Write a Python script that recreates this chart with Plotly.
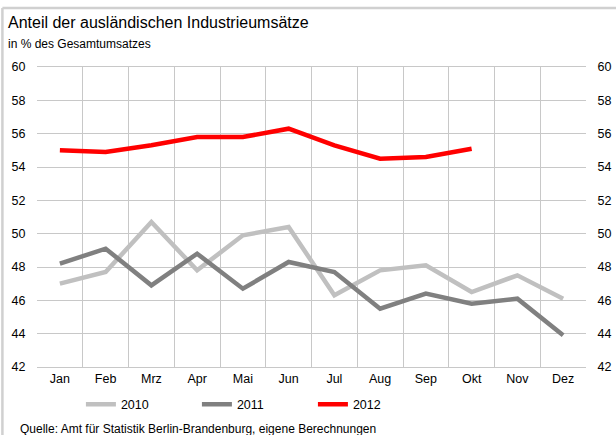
import plotly.graph_objects as go

months = ["Jan", "Feb", "Mrz", "Apr", "Mai", "Jun", "Jul", "Aug", "Sep", "Okt", "Nov", "Dez"]
v2010 = [47.0, 47.7, 50.7, 47.8, 49.9, 50.4, 46.3, 47.8, 48.1, 46.5, 47.5, 46.1]
v2011 = [48.2, 49.1, 46.9, 48.8, 46.7, 48.3, 47.7, 45.5, 46.4, 45.8, 46.1, 43.9]
v2012 = [55.0, 54.9, 55.3, 55.8, 55.8, 56.3, 55.3, 54.5, 54.6, 55.1]
yticks = [42, 44, 46, 48, 50, 52, 54, 56, 58, 60]

FONT = "Liberation Sans, Arial, sans-serif"

fig = go.Figure()
fig.add_trace(go.Scatter(x=months, y=v2010, mode="lines", name="2010",
                         line=dict(color="#c0c0c0", width=4.5)))
fig.add_trace(go.Scatter(x=months, y=v2011, mode="lines", name="2011",
                         line=dict(color="#808080", width=4.5)))
fig.add_trace(go.Scatter(x=months[:len(v2012)], y=v2012, mode="lines", name="2012",
                         line=dict(color="#ff0000", width=4.5)))
# invisible trace to carry right axis
fig.add_trace(go.Scatter(x=months, y=v2010, mode="lines", yaxis="y2", showlegend=False,
                         hoverinfo="skip", line=dict(color="rgba(0,0,0,0)", width=0)))

ax_common = dict(range=[42, 60], tickvals=yticks, ticktext=[str(t) for t in yticks],
                 tickfont=dict(family=FONT, size=12.5, color="#000000"),
                 showline=False, zeroline=False)

fig.update_layout(
    width=616, height=435,
    margin=dict(l=37, r=30, t=67, b=68, autoexpand=False),
    paper_bgcolor="white", plot_bgcolor="white",
    font=dict(family=FONT, color="#000000"),
    xaxis=dict(type="category", categoryorder="array", categoryarray=months,
               range=[-0.5, 11.5], tickson="boundaries", ticks="",
               showgrid=True, gridcolor="#c8c8c8", gridwidth=1,
               showline=True, linecolor="#c8c8c8", mirror=True,
               tickfont=dict(family=FONT, size=12.5, color="#000000"), zeroline=False),
    yaxis=dict(side="left", showgrid=True, gridcolor="#c8c8c8", gridwidth=1,
               ticks="outside", ticklen=8, tickcolor="rgba(0,0,0,0)", **ax_common),
    yaxis2=dict(side="right", overlaying="y", showgrid=False,
                ticks="outside", ticklen=8, tickcolor="rgba(0,0,0,0)", **ax_common),
    showlegend=True,
    legend=dict(orientation="h", x=0.08, xanchor="left", y=-0.125, yanchor="middle",
                font=dict(family=FONT, size=12.5, color="#000000"),
                entrywidth=71, entrywidthmode="pixels", itemwidth=30,
                bgcolor="rgba(0,0,0,0)", traceorder="normal"),
    annotations=[
        dict(text="Anteil der ausländischen Industrieumsätze", xref="paper", yref="paper",
             x=-0.057, y=1.148, xanchor="left", yanchor="middle", showarrow=False,
             font=dict(family=FONT, size=16, color="#000000")),
        dict(text="in % des Gesamtumsatzes", xref="paper", yref="paper",
             x=-0.057, y=1.078, xanchor="left", yanchor="middle", showarrow=False,
             font=dict(family=FONT, size=12, color="#000000")),
        dict(text="Quelle: Amt für Statistik Berlin-Brandenburg, eigene Berechnungen",
             xref="paper", yref="paper", x=-0.035, y=-0.205, xanchor="left", yanchor="middle",
             showarrow=False, font=dict(family=FONT, size=12, color="#000000")),
    ],
    shapes=[
        dict(type="line", xref="paper", yref="paper", x0=-0.063, x1=1.1, y0=1.197, y1=1.197,
             line=dict(color="#d0d0d0", width=2.5)),
        dict(type="line", xref="paper", yref="paper", x0=-0.063, x1=-0.063, y0=1.197, y1=-0.3,
             line=dict(color="#d0d0d0", width=2.5)),
    ],
)

fig.write_html("out.html", config={"displayModeBar": False},
               post_script="document.body.style.margin='0';document.body.style.padding='0';")
